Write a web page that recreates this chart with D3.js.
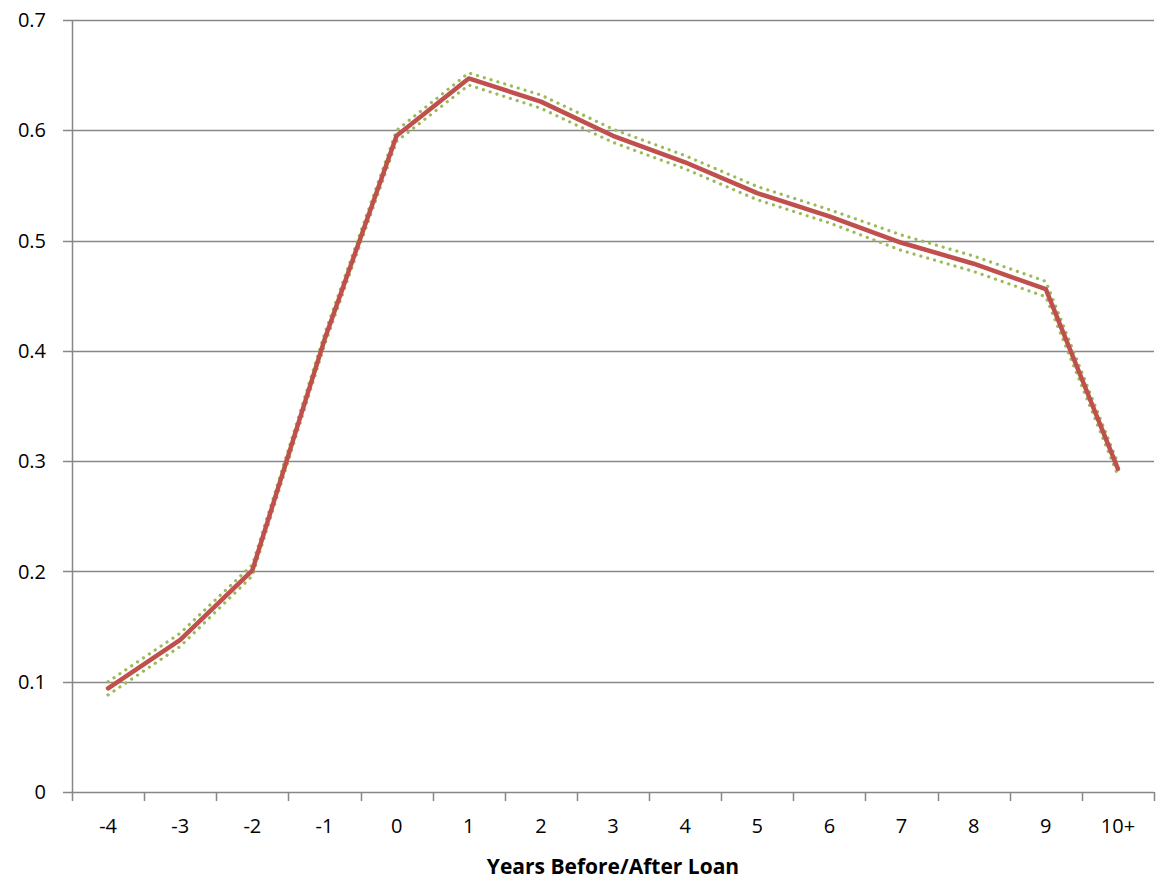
<!DOCTYPE html>
<html>
<head>
<meta charset="utf-8">
<script src="https://cdn.jsdelivr.net/npm/d3@7"></script>
<style>
  body { margin: 0; background: #fff; }
  svg { font-family: "Open Sans", sans-serif; }
</style>
</head>
<body>
<svg width="1157" height="884"></svg>
<script>
// categories and series
const years = ["-4", "-3", "-2", "-1", "0", "1", "2", "3", "4", "5", "6", "7", "8", "9", "10+"];
const estimate = [0.094, 0.138, 0.201, 0.41, 0.595, 0.647, 0.626, 0.595, 0.571, 0.543, 0.522, 0.498, 0.479, 0.456, 0.293];
const upper = [0.100, 0.144, 0.206, 0.415, 0.600, 0.652, 0.632, 0.601, 0.577, 0.549, 0.528, 0.505, 0.486, 0.463, 0.298];
const lower = [0.088, 0.132, 0.196, 0.405, 0.590, 0.641, 0.620, 0.589, 0.565, 0.537, 0.516, 0.491, 0.472, 0.449, 0.287];
const yTicks = [0, 0.1, 0.2, 0.3, 0.4, 0.5, 0.6, 0.7];

const svg = d3.select('svg');
const margin = { top: 20, right: 3, bottom: 92, left: 72 };
const width = +svg.attr('width');
const height = +svg.attr('height');

const x = d3.scaleBand()
    .domain(years)
    .range([margin.left, width - margin.right]);

const y = d3.scaleLinear()
    .domain([0, 0.7])
    .range([height - margin.bottom, margin.top]);

const axisColor = '#878787';

// horizontal gridlines (with the little left ticks)
svg.append('g')
    .selectAll('line')
    .data(yTicks)
    .enter().append('line')
    .attr('x1', margin.left - 9)
    .attr('x2', width - margin.right)
    .attr('y1', d => Math.round(y(d)) + 0.5)
    .attr('y2', d => Math.round(y(d)) + 0.5)
    .attr('stroke', axisColor)
    .attr('stroke-width', 1.5);

// y axis line
svg.append('line')
    .attr('x1', margin.left + 0.5)
    .attr('x2', margin.left + 0.5)
    .attr('y1', y(0.7))
    .attr('y2', y(0) + 9)
    .attr('stroke', axisColor)
    .attr('stroke-width', 1.5);

// y labels
svg.append('g')
    .selectAll('text')
    .data(yTicks)
    .enter().append('text')
    .attr('x', 46)
    .attr('y', d => y(d))
    .attr('dy', '0.36em')
    .attr('text-anchor', 'end')
    .style('font-size', '20px')
    .attr('fill', '#000')
    .text(d => d === 0 ? '0' : d3.format('.1f')(d));

// x tick marks at band edges
const edges = years.map(d => x(d)).concat([x.range()[1]]);
svg.append('g')
    .selectAll('line')
    .data(edges.slice(1))
    .enter().append('line')
    .attr('x1', d => Math.round(d) + 0.5)
    .attr('x2', d => Math.round(d) + 0.5)
    .attr('y1', y(0))
    .attr('y2', y(0) + 9)
    .attr('stroke', axisColor)
    .attr('stroke-width', 1.5);

// x labels
svg.append('g')
    .selectAll('text')
    .data(years)
    .enter().append('text')
    .attr('x', d => x(d) + x.bandwidth() / 2)
    .attr('y', y(0) + 41)
    .attr('text-anchor', 'middle')
    .style('font-size', '20px')
    .attr('fill', '#000')
    .text(d => d);

// x axis title
svg.append('text')
    .attr('x', (margin.left + width - margin.right) / 2)
    .attr('y', 874)
    .attr('text-anchor', 'middle')
    .style('font-size', '21px')
    .style('font-weight', 'bold')
    .attr('fill', '#000')
    .text('Years Before/After Loan');

const line = d3.line()
    .x((d, i) => x(years[i]) + x.bandwidth() / 2)
    .y(d => y(d));

// confidence bands (dotted green)
[upper, lower].forEach(series => {
    svg.append('path')
        .datum(series)
        .attr('d', line)
        .attr('fill', 'none')
        .attr('stroke', '#9BBB59')
        .attr('stroke-width', 3.2)
        .attr('stroke-linecap', 'round')
        .attr('stroke-dasharray', '0.1 7');
});

// main estimate (red)
svg.append('path')
    .datum(estimate)
    .attr('d', line)
    .attr('fill', 'none')
    .attr('stroke', '#C0504D')
    .attr('stroke-width', 4.5)
    .attr('stroke-linejoin', 'round')
    .attr('stroke-linecap', 'round');
</script>
</body>
</html>
